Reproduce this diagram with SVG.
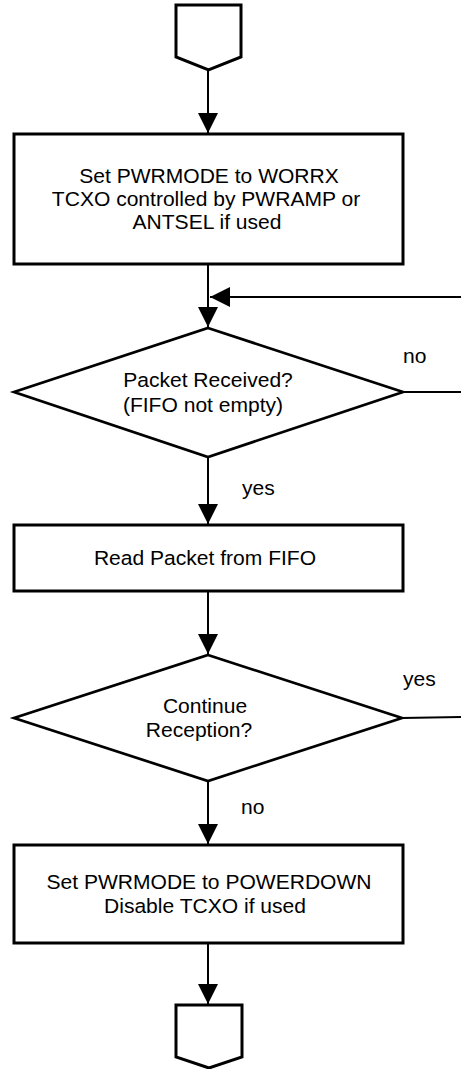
<svg xmlns="http://www.w3.org/2000/svg" width="461" height="1069" viewBox="0 0 461 1069">
<style>
.box{fill:#fff;stroke:#000;stroke-width:3;stroke-linejoin:miter}
.dia{fill:#fff;stroke:#000;stroke-width:2.7;stroke-linejoin:miter}
.ln{fill:none;stroke:#000;stroke-width:2}
.t{font-family:"Liberation Sans",Arial,sans-serif;font-size:19.5px;fill:#000;text-anchor:middle}
.lb{font-family:"Liberation Sans",Arial,sans-serif;font-size:19.5px;fill:#000;text-anchor:start}
</style>
<defs>
<marker id="ah" viewBox="0 0 20 20" refX="20" refY="10" markerWidth="20" markerHeight="20" markerUnits="userSpaceOnUse" orient="auto">
<path d="M0,0 L20,10 L0,20 Z" fill="#000"/>
</marker>
</defs>
<rect width="461" height="1069" fill="#fff"/>
<g id="connectors">
<line class="ln" x1="208" y1="70" x2="208" y2="133" marker-end="url(#ah)"/>
<line class="ln" x1="208" y1="265" x2="208" y2="327" marker-end="url(#ah)"/>
<line class="ln" x1="461" y1="297" x2="210" y2="297" marker-end="url(#ah)"/>
<line class="ln" x1="403" y1="392" x2="461" y2="392"/>
<line class="ln" x1="208" y1="457" x2="208" y2="524" marker-end="url(#ah)"/>
<line class="ln" x1="208" y1="592" x2="208" y2="654" marker-end="url(#ah)"/>
<line class="ln" x1="402" y1="718" x2="461" y2="717"/>
<line class="ln" x1="208" y1="781" x2="208" y2="844" marker-end="url(#ah)"/>
<line class="ln" x1="208" y1="944" x2="208" y2="1004" marker-end="url(#ah)"/>
<text class="lb" transform="translate(403,363) scale(1.08,1)">no</text>
<text class="lb" transform="translate(242,495) scale(1.08,1)">yes</text>
<text class="lb" transform="translate(403,686) scale(1.08,1)">yes</text>
<text class="lb" transform="translate(241,814) scale(1.08,1)">no</text>
</g>
<g id="start">
<path class="box" d="M176,5 H241 V57 L208.5,70 L176,57 Z"/>
</g>
<g id="box1">
<rect class="box" x="14" y="134" width="389" height="130"/>
<text class="t" transform="translate(209,183) scale(1.08,1)">Set PWRMODE to WORRX</text>
<text class="t" transform="translate(206,206) scale(1.08,1)">TCXO controlled by PWRAMP or</text>
<text class="t" transform="translate(207,229) scale(1.08,1)">ANTSEL if used</text>
</g>
<g id="dec1">
<path class="dia" d="M208,328 L403,392 L208,457 L14,392 Z"/>
<text class="t" transform="translate(208,387) scale(1.08,1)">Packet Received?</text>
<text class="t" transform="translate(203,412) scale(1.08,1)">(FIFO not empty)</text>
</g>
<g id="box2">
<rect class="box" x="14" y="525" width="389" height="66"/>
<text class="t" transform="translate(205,565) scale(1.08,1)">Read Packet from FIFO</text>
</g>
<g id="dec2">
<path class="dia" d="M208,655 L402,718 L208,781 L14,718 Z"/>
<text class="t" transform="translate(205,713) scale(1.08,1)">Continue</text>
<text class="t" transform="translate(199,737) scale(1.08,1)">Reception?</text>
</g>
<g id="box3">
<rect class="box" x="14" y="845" width="389" height="98"/>
<text class="t" transform="translate(209,889) scale(1.08,1)">Set PWRMODE to POWERDOWN</text>
<text class="t" transform="translate(205,913) scale(1.08,1)">Disable TCXO if used</text>
</g>
<g id="end">
<path class="box" d="M176,1005 H242 V1057 L209,1068 L176,1057 Z"/>
</g>
</svg>
